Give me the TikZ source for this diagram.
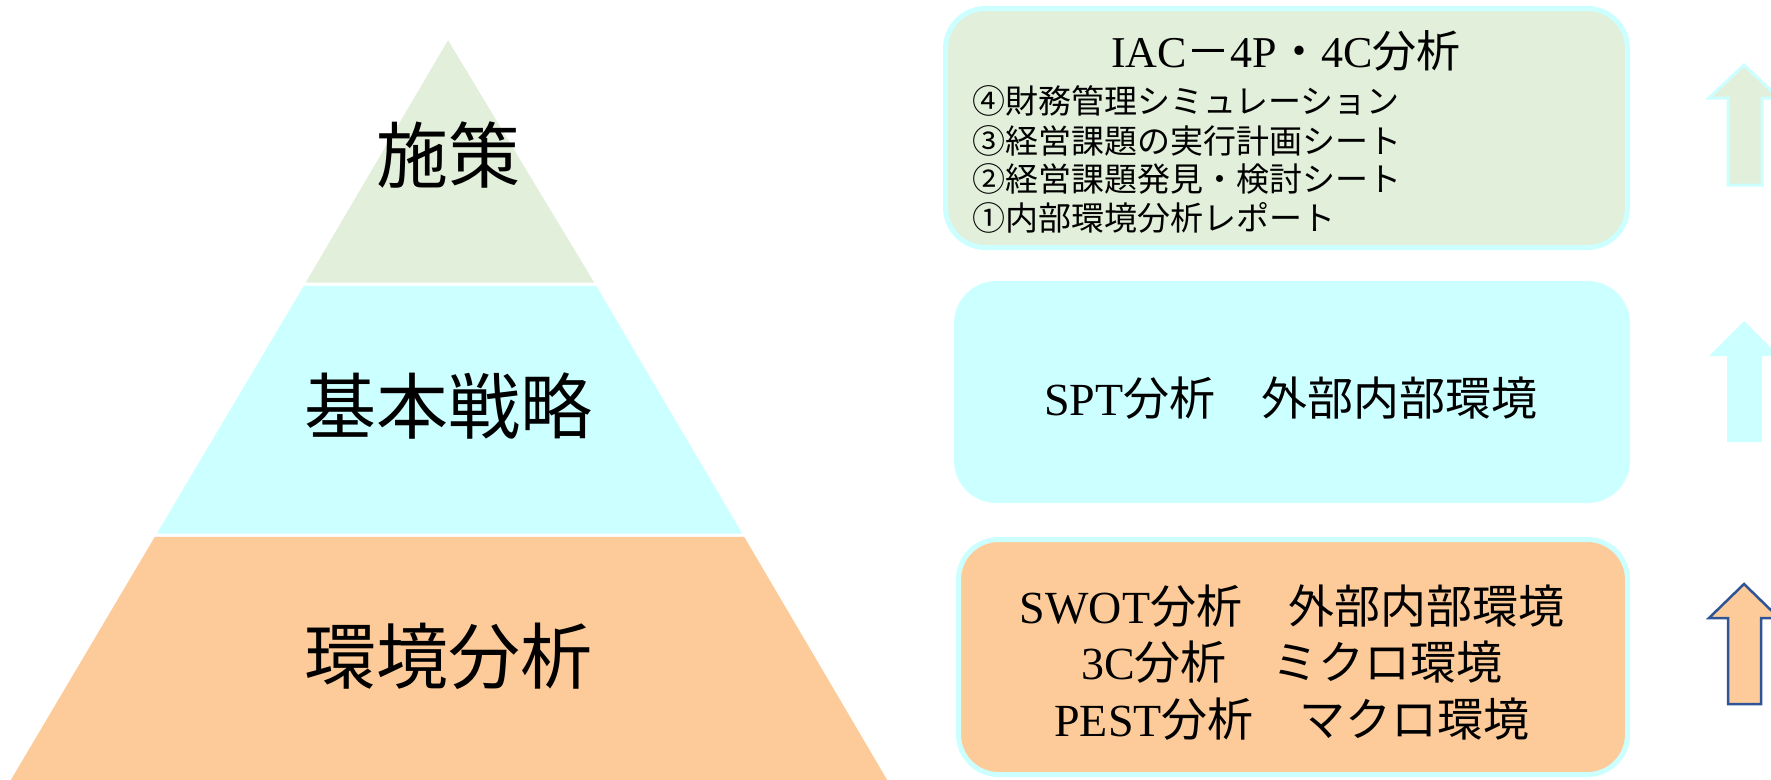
\documentclass[tikz,border=0pt]{standalone}
\usepackage{fontspec}
\setmainfont{Noto Sans CJK JP}
\newfontfamily\latf{Liberation Serif}
\newcommand\lat[1]{{\latf #1}}
\definecolor{tgreen}{HTML}{E2EFDA}
\definecolor{tcyan}{HTML}{CCFFFF}
\definecolor{torange}{HTML}{FDCB99}
\definecolor{tblue}{HTML}{2F5597}
\tikzset{
  tier/.style={draw=white, line width=3pt, line join=miter},
  pyrlabel/.style={font=\fontsize{72}{80}\selectfont, inner sep=0pt},
  panel/.style={rounded corners=40pt, inner sep=0pt, line width=5pt},
  bigtext/.style={font=\fontsize{46}{52}\selectfont, inner sep=0pt},
  titletext/.style={font=\fontsize{44}{50}\selectfont, inner sep=0pt},
  listtext/.style={font=\fontsize{33}{38}\selectfont, inner sep=0pt, anchor=west},
  uparr/.style={line width=3pt, line join=miter}
}
\begin{document}
\begin{tikzpicture}[x=1pt, y=-1pt]
\useasboundingbox (0,0) rectangle (1771,779);
\clip (0,0) rectangle (1771,779);
% pyramid
\filldraw[tier, fill=torange] (154,535) -- (745,535) -- (895,790) -- (3,790) -- cycle;
\filldraw[tier, fill=tcyan] (303,284) -- (597,284) -- (745,535) -- (154,535) -- cycle;
\filldraw[tier, fill=tgreen] (448,37) -- (597,284) -- (303,284) -- cycle;
\node[pyrlabel] (p1) at (448,155) {施策};
\node[pyrlabel] (p2) at (448,406) {基本戦略};
\node[pyrlabel] (p3) at (448,656) {環境分析};
% panels
\node[panel, draw=tcyan, fill=tgreen, minimum width=682pt, minimum height=239pt] (b1) at (1286.5,128) {};
\node[panel, draw=tcyan, fill=tcyan, minimum width=671pt, minimum height=217pt] (b2) at (1292,392) {};
\node[panel, draw=tcyan, fill=torange, minimum width=669pt, minimum height=235pt] (b3) at (1293,657) {};
% panel texts
\node[titletext] (t1) at (1286,51) {\lat{IAC}－\lat{4P}・\lat{4C}分析};
\node[listtext] (l4) at (972,101) {④財務管理シミュレーション};
\node[listtext] (l3) at (972,141) {③経営課題の実行計画シート};
\node[listtext] (l2) at (972,179) {②経営課題発見・検討シート};
\node[listtext] (l1) at (972,218) {①内部環境分析レポート};
\node[bigtext] (t2) at (1291,398) {\lat{SPT}分析　外部内部環境};
\node[bigtext] (t3a) at (1292,606) {\lat{SWOT}分析　外部内部環境};
\node[bigtext] (t3b) at (1292,662) {\lat{3C}分析　ミクロ環境};
\node[bigtext] (t3c) at (1292,719) {\lat{PEST}分析　マクロ環境};
% arrows
\filldraw[uparr, draw=tcyan, fill=tgreen] (1744,65) -- (1779,98) -- (1762,98) -- (1762,185) -- (1728,185) -- (1728,98) -- (1709,98) -- cycle;
\fill[tcyan] (1744,321) -- (1779,356) -- (1762,356) -- (1762,442) -- (1727,442) -- (1727,356) -- (1709,356) -- cycle;
\filldraw[uparr, line width=2.5pt, draw=tblue, fill=torange] (1744,584) -- (1779,618) -- (1761,618) -- (1761,704) -- (1728,704) -- (1728,618) -- (1709,618) -- cycle;
\end{tikzpicture}
\end{document}
